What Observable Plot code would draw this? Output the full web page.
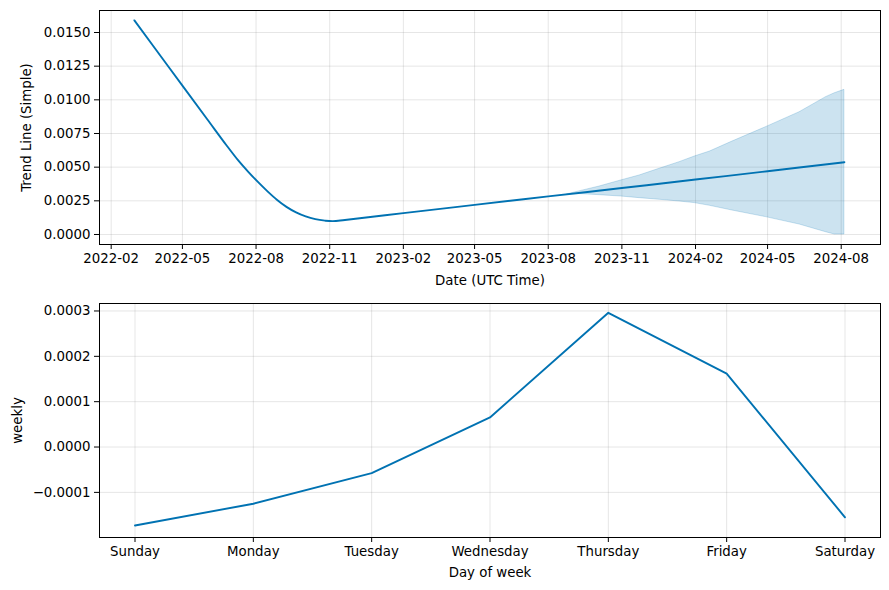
<!DOCTYPE html>
<html>
<head>
<meta charset="utf-8">
<script src="https://cdn.jsdelivr.net/npm/d3@7"></script>
<script src="https://cdn.jsdelivr.net/npm/@observablehq/plot@0.6"></script>
<style>
  html, body { margin: 0; padding: 0; background: white; }
  #chart svg { display: block; }
</style>
</head>
<body>
<div id="chart"></div>
<script>
// Trend line
const trendDates = ["2022-03-02","2022-04-15","2022-06-01","2022-06-25","2022-07-10","2022-07-22","2022-08-03","2022-08-15","2022-08-27","2022-09-08","2022-09-20","2022-10-02","2022-10-14","2022-10-26","2022-11-05","2022-11-20","2023-02-01","2023-05-01","2023-08-01","2023-11-01","2024-02-01","2024-05-01","2024-08-05"];
const trendValues = [0.01590,0.01235,0.00856,0.00663,0.00548,0.00467,0.00392,0.00322,0.00258,0.00205,0.00164,0.00134,0.00114,0.00103,0.00099,0.00108,0.00159,0.00220,0.00283,0.00345,0.00408,0.00470,0.00537];

// Uncertainty band
const bandDates = ["2023-08-25","2023-09-10","2023-10-04","2023-10-31","2023-11-23","2023-12-18","2024-01-12","2024-01-31","2024-02-19","2024-03-18","2024-04-29","2024-06-10","2024-07-13","2024-07-24","2024-08-05"];
const bandUpper = [0.00298,0.00322,0.00356,0.00401,0.00438,0.00488,0.00537,0.00579,0.00616,0.00690,0.00797,0.00908,0.01020,0.01049,0.01074];
const bandLower = [0.00298,0.00300,0.00292,0.00282,0.00270,0.00258,0.00245,0.00233,0.00213,0.00178,0.00129,0.00074,0.00017,0.00000,0.00000];

// Top x ticks
const dateTicks = ["2022-02","2022-05","2022-08","2022-11","2023-02","2023-05","2023-08","2023-11","2024-02","2024-05","2024-08"];
const trendTicks = [0, 0.0025, 0.005, 0.0075, 0.01, 0.0125, 0.015];

// Weekly
const days = ["Sunday","Monday","Tuesday","Wednesday","Thursday","Friday","Saturday"];
const weeklyValues = [-0.000173,-0.000125,-0.0000574,0.0000653,0.000296,0.000162,-0.000155];
const weeklyTicks = [-0.0001, 0, 0.0001, 0.0002, 0.0003];

const parse = d3.utcParse("%Y-%m-%d");
const parseM = d3.utcParse("%Y-%m");
const trend = trendDates.map((d, i) => ({date: parse(d), value: trendValues[i]}));
const band = bandDates.map((d, i) => ({date: parse(d), upper: bandUpper[i], lower: bandLower[i]}));
const weekly = days.map((d, i) => ({i, value: weeklyValues[i]}));

const blue = "#0072B2";
const chartStyle = {fontFamily: "'DejaVu Sans', sans-serif", fontSize: "13.33px", color: "black", background: "white"};
const fmt4 = d3.format(".4f");

const trendPlot = Plot.plot({
  width: 889, height: 295,
  marginLeft: 99, marginRight: 9, marginTop: 10, marginBottom: 51,
  style: chartStyle,
  x: {type: "utc", domain: [new Date(Date.UTC(2022,0,17,10)), new Date(Date.UTC(2024,8,19,2))]},
  y: {domain: [-0.000743, 0.016634]},
  marks: [
    Plot.gridX(dateTicks.map(parseM), {stroke: "#808080", strokeOpacity: 0.2, strokeWidth: 1}),
    Plot.gridY(trendTicks, {stroke: "#808080", strokeOpacity: 0.2, strokeWidth: 1}),
    Plot.areaY(band, {x: "date", y1: "lower", y2: "upper", fill: blue, fillOpacity: 0.2, stroke: blue, strokeOpacity: 0.2, strokeWidth: 1}),
    Plot.line(trend, {x: "date", y: "value", stroke: blue, strokeWidth: 1.9, curve: "catmull-rom"}),
    Plot.axisX(dateTicks.map(parseM), {tickFormat: d3.utcFormat("%Y-%m"), tickSize: 5, tickPadding: 4, label: "Date (UTC Time)", labelAnchor: "center", labelArrow: "none", labelOffset: 40}),
    Plot.axisY(trendTicks, {tickFormat: fmt4, tickSize: 5, tickPadding: 4, label: "Trend Line (Simple)", labelAnchor: "center", labelArrow: "none", labelOffset: 78}),
    Plot.frame({stroke: "black", strokeWidth: 1})
  ]
});

const weeklyPlot = Plot.plot({
  width: 889, height: 295,
  marginLeft: 99, marginRight: 9, marginTop: 8, marginBottom: 53,
  style: chartStyle,
  x: {domain: [-0.3, 6.3]},
  y: {domain: [-0.0001995, 0.0003165]},
  marks: [
    Plot.gridX(d3.range(7), {stroke: "#808080", strokeOpacity: 0.2, strokeWidth: 1}),
    Plot.gridY(weeklyTicks, {stroke: "#808080", strokeOpacity: 0.2, strokeWidth: 1}),
    Plot.line(weekly, {x: "i", y: "value", stroke: blue, strokeWidth: 1.9}),
    Plot.axisX(d3.range(7), {tickFormat: i => days[i], tickSize: 5, tickPadding: 4, label: "Day of week", labelAnchor: "center", labelArrow: "none", labelOffset: 39}),
    Plot.axisY(weeklyTicks, {tickFormat: fmt4, tickSize: 5, tickPadding: 4, label: "weekly", labelAnchor: "center", labelArrow: "none", labelOffset: 87}),
    Plot.frame({stroke: "black", strokeWidth: 1})
  ]
});

document.getElementById("chart").append(trendPlot, weeklyPlot);
</script>
</body>
</html>
